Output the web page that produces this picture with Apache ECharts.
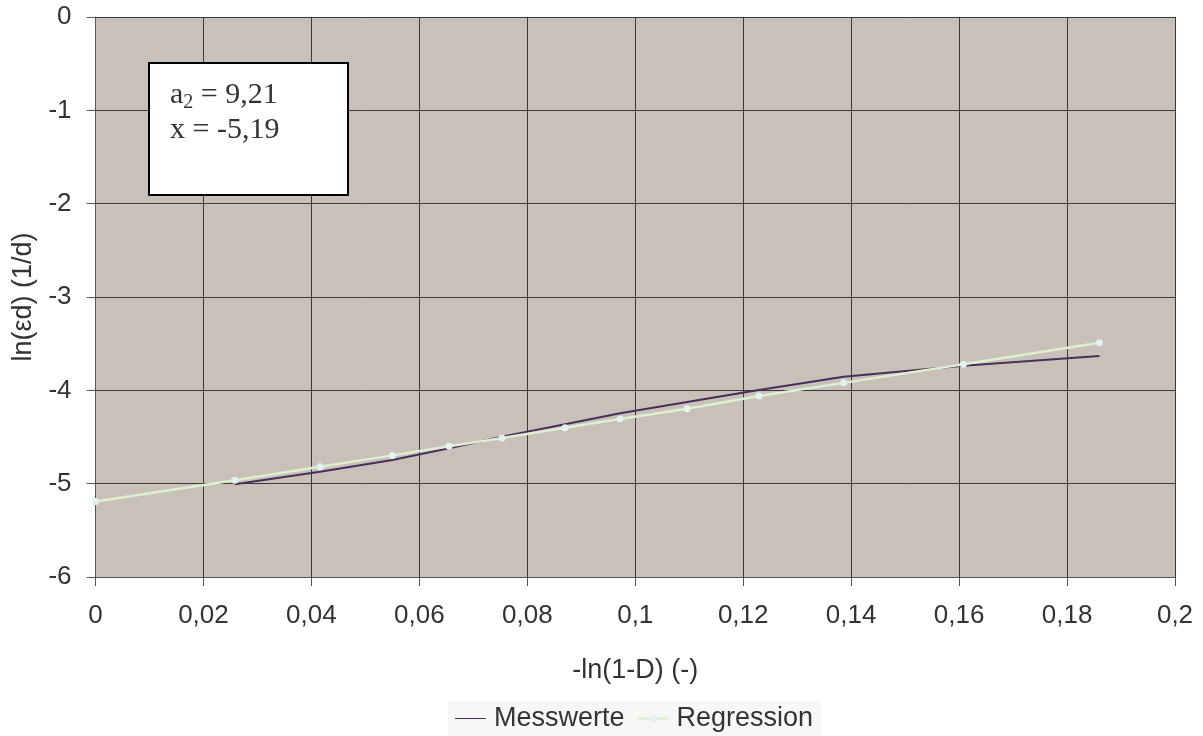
<!DOCTYPE html>
<html><head><meta charset="utf-8">
<script src="https://cdn.jsdelivr.net/npm/echarts@6/dist/echarts.min.js"></script>
<style>html,body{margin:0;padding:0;background:#fff}#c{width:1203px;height:736px}</style>
</head><body><div id="c"></div>
<script>
const xValues = [0, 0.0258, 0.0416, 0.055, 0.0655, 0.0753, 0.087, 0.0972, 0.1096, 0.1229, 0.1386, 0.1608, 0.186];
const messwerteX = [0.0258, 0.0416, 0.055, 0.0655, 0.0753, 0.087, 0.0972, 0.1096, 0.1229, 0.1386, 0.1608, 0.186];
const messwerteY = [-5.007, -4.872, -4.747, -4.621, -4.497, -4.364, -4.246, -4.125, -3.997, -3.854, -3.736, -3.632];
const regressionY = [-5.19, -4.964, -4.818, -4.697, -4.60, -4.511, -4.40, -4.307, -4.197, -4.061, -3.92, -3.72, -3.49];
const seriesNames = ['Messwerte', 'Regression'];
const xAxisTitle = '-ln(1-D) (-)';
const yAxisTitle = 'ln(\u03b5d) (1/d)';
const annotationLines = ['a{sub|2} = 9,21', 'x = -5,19'];

const fmt = v => String(+v.toFixed(3)).replace('.', ',');
const FS = 26;
const chart = echarts.init(document.getElementById('c'), null, {renderer: 'canvas'});
chart.setOption({
  animation: false,
  backgroundColor: '#ffffff',
  grid: {left: 95.5, right: 28, top: 17, bottom: 159, show: true, backgroundColor: '#C9C0BA', borderWidth: 0},
  xAxis: {
    type: 'value', min: 0, max: 0.2, interval: 0.02,
    name: xAxisTitle, nameLocation: 'middle', nameGap: 80,
    nameTextStyle: {fontFamily: 'Liberation Sans', fontSize: 27, color: '#333'},
    axisLine: {show: true, onZero: false, lineStyle: {color: '#555', width: 1}},
    axisTick: {show: true, length: 9, lineStyle: {color: '#555'}},
    axisLabel: {formatter: fmt, fontFamily: 'Liberation Sans', fontSize: FS, color: '#333', margin: 26},
    splitLine: {show: true, lineStyle: {color: '#3a3a3a', width: 1}}
  },
  yAxis: {
    type: 'value', min: -6, max: 0, interval: 1,
    name: yAxisTitle, nameLocation: 'middle', nameGap: 57,
    nameTextStyle: {fontFamily: 'Liberation Sans', fontSize: 27, color: '#333'},
    axisLine: {show: true, lineStyle: {color: '#555', width: 1}},
    axisTick: {show: true, length: 9, lineStyle: {color: '#555'}},
    axisLabel: {formatter: fmt, fontFamily: 'Liberation Sans', fontSize: FS, color: '#333', margin: 24},
    splitLine: {show: true, lineStyle: {color: '#3a3a3a', width: 1}}
  },
  legend: {
    bottom: 0, left: 448, itemGap: 12, itemWidth: 31, itemHeight: 10,
    backgroundColor: '#F7F7F5', padding: [4, 8, 4, 7],
    textStyle: {fontFamily: 'Liberation Sans', fontSize: 27, color: '#333', padding: [0, 0, 0, 3]},
    data: [
      {name: seriesNames[0], icon: 'path://M0,5 L31,5 L31,6 L0,6 Z'},
      {name: seriesNames[1]}
    ]
  },
  series: [
    {
      name: seriesNames[0], type: 'line',
      data: messwerteX.map((x, i) => [x, messwerteY[i]]),
      showSymbol: false, symbol: 'none',
      lineStyle: {color: '#4A2E5C', width: 2},
      itemStyle: {color: '#4A2E5C'}, z: 3
    },
    {
      name: seriesNames[1], type: 'line',
      data: xValues.map((x, i) => [x, regressionY[i]]),
      symbol: 'circle', symbolSize: 7,
      lineStyle: {color: '#DCEFCF', width: 2.5},
      itemStyle: {color: '#E2F2F0', borderWidth: 0}, z: 4
    }
  ],
  graphic: [
    {type: 'rect', left: 148, top: 62, shape: {width: 199, height: 132},
     style: {fill: '#fff', stroke: '#000', lineWidth: 2}, z: 10},
    {type: 'text', left: 170, top: 78, z: 11,
     style: {text: annotationLines.join('\n'), font: '30px "Liberation Serif"', fill: '#333', lineHeight: 35,
       rich: {sub: {fontFamily: 'Liberation Serif', fontSize: 20, verticalAlign: 'bottom', padding: [16, 0, 0, 0], fill: '#333'}}}}
  ]
});
</script></body></html>
